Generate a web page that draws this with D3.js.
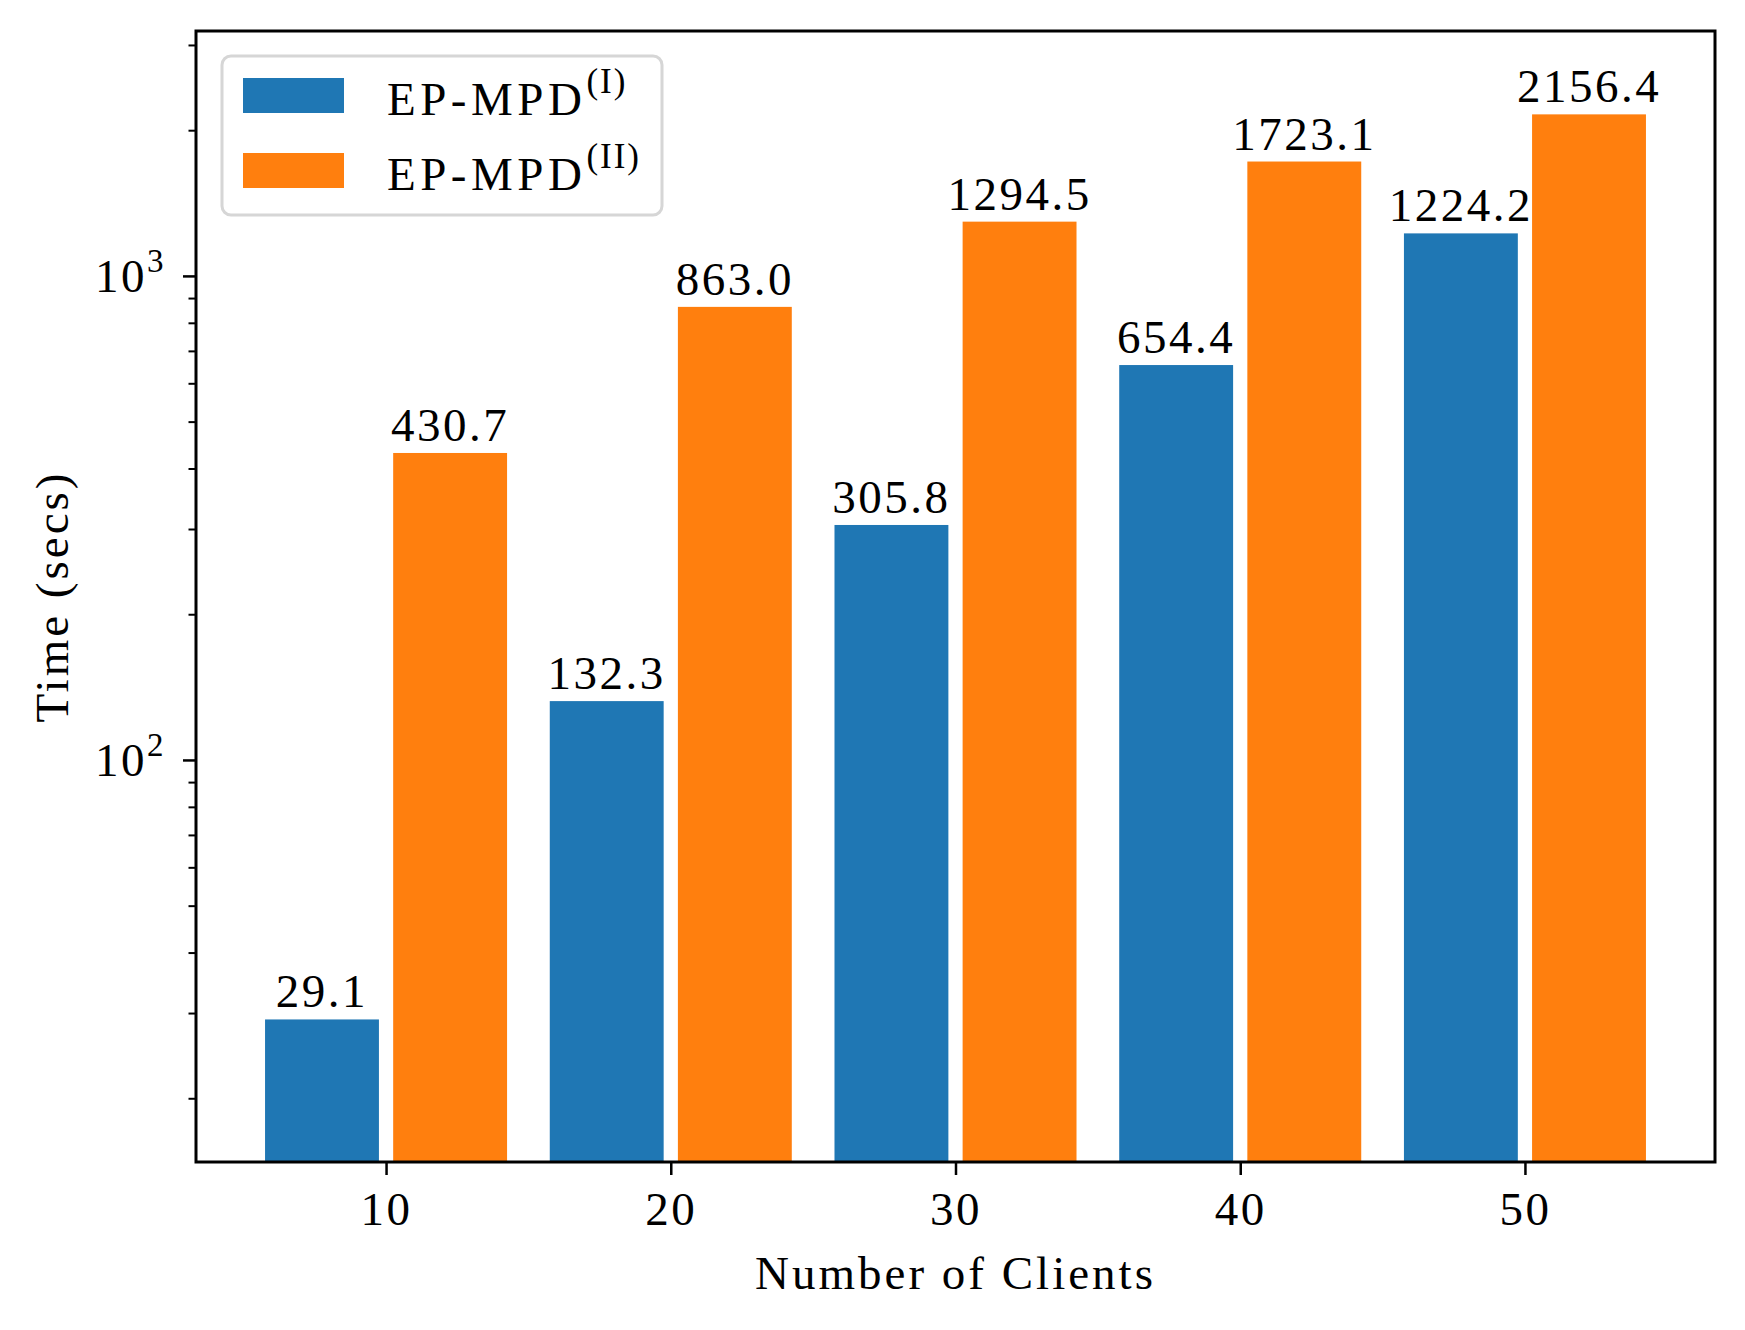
<!DOCTYPE html>
<html><head><meta charset="utf-8">
<script src="https://cdn.jsdelivr.net/npm/d3@7"></script>
<style>body{margin:0;background:#fff}svg text{font-family:"Liberation Serif","DejaVu Serif",serif;fill:#000}</style>
</head><body><svg id="c" width="1745" height="1330"></svg>
<script>
const clients = [10, 20, 30, 40, 50];
const seriesNames = ["EP-MPD", "EP-MPD"];
const seriesSup = ["(I)", "(II)"];
const seriesI = [29.1, 132.3, 305.8, 654.4, 1224.2];
const seriesII = [430.7, 863.0, 1294.5, 1723.1, 2156.4];
const xTicks = [10, 20, 30, 40, 50];
const yMajor = [100, 1000];
const yMajorExp = ["2", "3"];
const colors = ["#1f77b4", "#ff7f0e"];

const svg = d3.select("#c");
const L = 196, R = 1715, T = 31, B = 1162;
const x = d3.scaleLinear().domain([3.325, 56.675]).range([L, R]);
const y = d3.scaleLog().domain([14.77, 3206]).range([B, T]);
const fs = 47, ls = "2.5px";

const series = [seriesI, seriesII];
const offs = [-2.25, 2.25];
const bw = 4;
series.forEach((s, si) => {
  svg.append("g").selectAll("rect").data(s).join("rect")
    .attr("x", (d, i) => x(clients[i] + offs[si] - bw / 2))
    .attr("width", (d, i) => x(clients[i] + offs[si] + bw / 2) - x(clients[i] + offs[si] - bw / 2))
    .attr("y", d => y(d))
    .attr("height", d => B - y(d))
    .attr("fill", colors[si]);
  svg.append("g").selectAll("text").data(s).join("text")
    .attr("x", (d, i) => x(clients[i] + offs[si]))
    .attr("y", d => y(d) - 12)
    .attr("text-anchor", "middle")
    .attr("font-size", fs).style("letter-spacing", ls)
    .text(d => d.toFixed(1));
});

// axes
const xAxis = d3.axisBottom(x).tickValues(xTicks).tickSize(13).tickPadding(15).tickFormat(d3.format("d"));
const gx = svg.append("g").attr("transform", `translate(0,${B})`).call(xAxis);
gx.select(".domain").remove();
gx.selectAll("line").attr("stroke", "#000").attr("stroke-width", 2.5);
gx.selectAll("text").attr("font-size", fs).attr("dy", "0.75em").style("letter-spacing", ls)
  .style("font-family", '"Liberation Serif",serif');

const minor = [];
for (let e = 1; e <= 3; e++) for (let m = 2; m <= 9; m++) { const v = m * Math.pow(10, e); if (v > 14.77 && v < 3206) minor.push(v); }
const gyMinor = svg.append("g").attr("transform", `translate(${L},0)`)
  .call(d3.axisLeft(y).tickValues(minor).tickSize(7.5).tickFormat(""));
gyMinor.select(".domain").remove();
gyMinor.selectAll("line").attr("stroke", "#000").attr("stroke-width", 2);

const gy = svg.append("g").attr("transform", `translate(${L},0)`)
  .call(d3.axisLeft(y).tickValues(yMajor).tickSize(13).tickFormat(""));
gy.select(".domain").remove();
gy.selectAll("line").attr("stroke", "#000").attr("stroke-width", 2.5);
yMajor.forEach((v, i) => {
  const t = svg.append("text").attr("x", L - 30).attr("y", y(v) + 16).attr("text-anchor", "end")
    .attr("font-size", fs).style("letter-spacing", ls);
  t.append("tspan").text("10");
  t.append("tspan").attr("font-size", 33).attr("dy", -20).text(yMajorExp[i]);
});

// frame
svg.append("rect").attr("x", L).attr("y", T).attr("width", R - L).attr("height", B - T)
  .attr("fill", "none").attr("stroke", "#000").attr("stroke-width", 3);

// labels
svg.append("text").attr("x", (L + R) / 2).attr("y", 1289).attr("text-anchor", "middle")
  .attr("font-size", fs).style("letter-spacing", "3px").text("Number of Clients");
svg.append("text").attr("transform", `translate(68,${(T + B) / 2}) rotate(-90)`).attr("text-anchor", "middle")
  .attr("font-size", fs).style("letter-spacing", "3px").text("Time (secs)");

// legend
const lg = svg.append("g");
lg.append("rect").attr("x", 222).attr("y", 56).attr("width", 440).attr("height", 159).attr("rx", 9)
  .attr("fill", "#fff").attr("fill-opacity", 0.8).attr("stroke", "#d6d6d6").attr("stroke-width", 3);
seriesNames.forEach((n, i) => {
  const yy = 78 + i * 75;
  lg.append("rect").attr("x", 243).attr("y", yy).attr("width", 101).attr("height", 35).attr("fill", colors[i]);
  const t = lg.append("text").attr("x", 387).attr("y", yy + 37).attr("font-size", fs).style("letter-spacing", "4.5px");
  t.append("tspan").text(n);
  t.append("tspan").attr("font-size", 35).attr("dy", -22).style("letter-spacing", "2px").text(seriesSup[i]);
});
</script></body></html>
